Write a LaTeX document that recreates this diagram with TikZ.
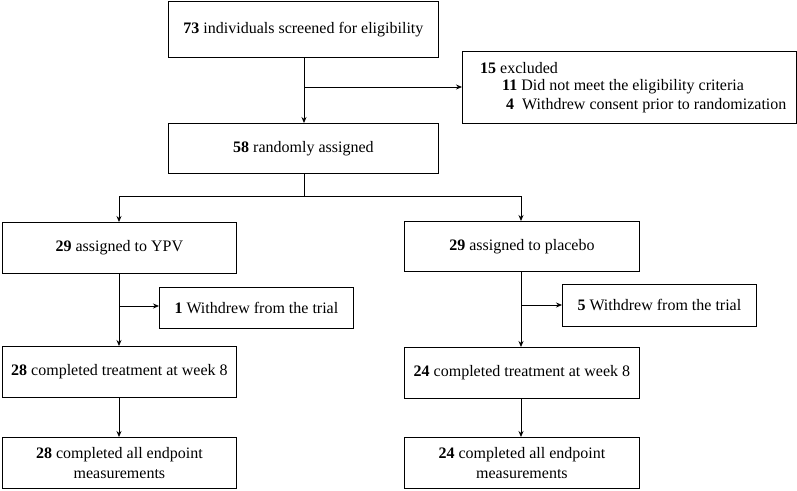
\documentclass[tikz,border=0pt]{standalone}
\usepackage{fontspec}
\setmainfont{Liberation Serif}
\usetikzlibrary{arrows.meta}
\begin{document}
\begin{tikzpicture}[x=1pt,y=-1pt,
 box/.style={draw,line width=0.8pt,anchor=north west,inner sep=0pt,font=\fontsize{16}{20}\selectfont,align=center},
 arr/.style={line width=0.8pt,-{Stealth[length=6pt,width=5pt]}}]
\useasboundingbox (0,0) rectangle (797,490);
\node[box,minimum width=270,minimum height=56] (a) at (168,1) {\textbf{73} individuals screened for eligibility};
\node[box,minimum width=334,minimum height=72,align=left,anchor=north west] (ex) at (462,51) {};
\node[font=\fontsize{16}{20}\selectfont,anchor=west,inner sep=0pt] (ex1) at (480,68) {\textbf{15} excluded};
\node[font=\fontsize{16}{20}\selectfont,anchor=west,inner sep=0pt] (ex2) at (502,87) {\textbf{11} Did not meet the eligibility criteria};
\node[font=\fontsize{16}{20}\selectfont,anchor=west,inner sep=0pt] (ex3) at (506,106) {\textbf{4}\ \ Withdrew consent prior to randomization};
\node[box,minimum width=270,minimum height=50] (b) at (168,123) {\textbf{58} randomly assigned};
\node[box,minimum width=234,minimum height=51] (y) at (2,222) {\textbf{29} assigned to YPV};
\node[box,minimum width=235,minimum height=50] (p) at (404,221) {\textbf{29} assigned to placebo};
\node[box,minimum width=194,minimum height=41] (wy) at (159,287) {\textbf{1} Withdrew from the trial};
\node[box,minimum width=194,minimum height=42] (wp) at (562,284) {\textbf{5} Withdrew from the trial};
\node[box,minimum width=234,minimum height=51] (cy) at (2,346) {\textbf{28} completed treatment at week 8};
\node[box,minimum width=235,minimum height=51] (cp) at (404,347) {\textbf{24} completed treatment at week 8};
\node[box,minimum width=234,minimum height=51] (ey) at (2,437) {\textbf{28} completed all endpoint\\measurements};
\node[box,minimum width=235,minimum height=51] (ep) at (404,437) {\textbf{24} completed all endpoint\\measurements};
\coordinate (j1) at (304,87);
\coordinate (j2) at (304,196);
\coordinate (jl) at (119,196);
\coordinate (jr) at (521,196);
\coordinate (k1) at (119,306);
\coordinate (k2) at (521,305);
\draw[arr] (a.south -| j1) -- (b.north -| j1);
\draw[arr] (j1) -- (ex.west |- j1);
\draw[line width=0.8pt] (b.south -| j2) -- (j2);
\draw[line width=0.8pt] (jl) -- (jr);
\draw[arr] (jl) -- (y.north -| jl);
\draw[arr] (jr) -- (p.north -| jr);
\draw[arr] (y.south -| jl) -- (cy.north -| jl);
\draw[arr] (p.south -| jr) -- (cp.north -| jr);
\draw[arr] (k1) -- (wy.west |- k1);
\draw[arr] (k2) -- (wp.west |- k2);
\draw[arr] (cy.south -| jl) -- (ey.north -| jl);
\draw[arr] (cp.south -| jr) -- (ep.north -| jr);
\end{tikzpicture}
\end{document}
